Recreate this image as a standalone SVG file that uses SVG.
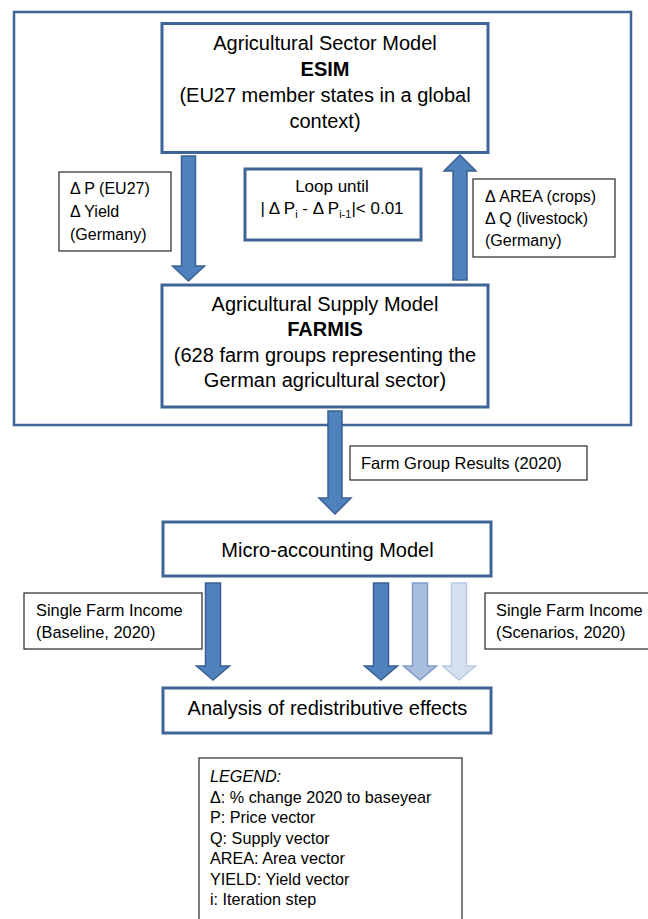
<svg xmlns="http://www.w3.org/2000/svg" width="648" height="919" viewBox="0 0 648 919">
<style>
.box{fill:#fff;stroke:#3F6596;stroke-width:3}
.frame{fill:none;stroke:#3F6596;stroke-width:2.5}
.lbl{fill:#fff;stroke:#262626;stroke-width:1.2}
.t{font-family:"Liberation Sans",Arial,sans-serif;fill:#000}
.m{font-size:20px}
.s{font-size:16px}
.c{text-anchor:middle}
.a1{fill:#4F81BD;stroke:#3A6092;stroke-width:1.5}
.a2{fill:#A7BEDD;stroke:#7F9CC6;stroke-width:1.5}
.a3{fill:#D5E0EF;stroke:#B9CCE4;stroke-width:1.5}
</style>
<rect x="0" y="0" width="648" height="919" fill="#fff"/>
<g id="frame"><rect class="frame" x="14" y="12" width="617" height="413"/></g>
<g id="connectors">
<path class="a1" d="M181.5,156 H195.5 V266 H204.5 L188.5,281 L172.5,266 H181.5 Z"/>
<path class="a1" d="M453,280 V171 H444 L460,155 L476,171 H467 V280 Z"/>
<path class="a1" d="M328,411 H342 V498 H351 L335,514 L319,498 H328 Z"/>
<path class="a1" d="M205.5,583 H220.5 V666 H229.5 L213,680 L196.5,666 H205.5 Z"/>
<path class="a1" d="M373.5,583 H388.5 V666 H397.5 L381,680 L364.5,666 H373.5 Z"/>
<path class="a2" d="M412.5,583 H427.5 V666 H436.5 L420,680 L403.5,666 H412.5 Z"/>
<path class="a3" d="M451.5,583 H466.5 V666 H475.5 L459,680 L442.5,666 H451.5 Z"/>
</g>
<g id="esim">
<rect class="box" x="162" y="23.5" width="326" height="129"/>
<text class="t m c" x="325" y="50">Agricultural Sector Model</text>
<text class="t m c" x="325" y="76" font-weight="bold">ESIM</text>
<text class="t m c" x="325" y="102">(EU27 member states in a global</text>
<text class="t m c" x="325" y="128">context)</text>
</g>
<g id="farmis">
<rect class="box" x="162" y="285" width="326" height="122"/>
<text class="t m c" x="325" y="311">Agricultural Supply Model</text>
<text class="t m c" x="325" y="336" font-weight="bold">FARMIS</text>
<text class="t m c" x="325" y="362">(628 farm groups representing the</text>
<text class="t m c" x="325" y="387">German agricultural sector)</text>
</g>
<g id="loop">
<rect class="box" x="245" y="169" width="176" height="71"/>
<text class="t c" font-size="17" x="332" y="191.5">Loop until</text>
<text class="t c" font-size="17" x="332" y="214">| Δ P<tspan font-size="11" dy="4">i</tspan><tspan dy="-4"> - Δ P</tspan><tspan font-size="11" dy="4">i-1</tspan><tspan dy="-4">|&lt; 0.01</tspan></text>
</g>
<g id="label-left">
<rect class="lbl" x="59" y="172" width="112" height="79"/>
<text class="t s" x="70" y="194">Δ P (EU27)</text>
<text class="t s" x="70" y="217">Δ Yield</text>
<text class="t s" x="70" y="239.5">(Germany)</text>
</g>
<g id="label-right">
<rect class="lbl" x="473" y="179" width="142" height="78"/>
<text class="t s" x="485" y="201.5">Δ AREA (crops)</text>
<text class="t s" x="485" y="224">Δ Q (livestock)</text>
<text class="t s" x="485" y="246">(Germany)</text>
</g>
<g id="label-fgr">
<rect class="lbl" x="350" y="446" width="237" height="34"/>
<text class="t" font-size="16.5" x="361" y="468.5">Farm Group Results (2020)</text>
</g>
<g id="micro">
<rect class="box" x="163" y="522" width="328" height="54"/>
<text class="t m c" x="327.5" y="557">Micro-accounting Model</text>
</g>
<g id="label-base">
<rect class="lbl" x="24" y="593" width="178" height="56"/>
<text class="t" font-size="16.4" x="36" y="616">Single Farm Income</text>
<text class="t" font-size="16.4" x="36" y="638">(Baseline, 2020)</text>
</g>
<g id="label-scen">
<rect class="lbl" x="485" y="593" width="170" height="56"/>
<text class="t" font-size="16.4" x="496" y="616">Single Farm Income</text>
<text class="t" font-size="16.4" x="496" y="638">(Scenarios, 2020)</text>
</g>
<g id="analysis">
<rect class="box" x="163" y="688" width="328" height="45"/>
<text class="t m c" x="327.5" y="715">Analysis of redistributive effects</text>
</g>
<g id="legend">
<rect class="lbl" x="199" y="758" width="263" height="175"/>
<text class="t" font-size="16.2" x="210" y="782" font-style="italic">LEGEND:</text>
<text class="t" font-size="16.2" x="210" y="802.5">Δ: % change 2020 to baseyear</text>
<text class="t" font-size="16.2" x="210" y="823">P: Price vector</text>
<text class="t" font-size="16.2" x="210" y="843.5">Q: Supply vector</text>
<text class="t" font-size="16.2" x="210" y="864">AREA: Area vector</text>
<text class="t" font-size="16.2" x="210" y="884.5">YIELD: Yield vector</text>
<text class="t" font-size="16.2" x="210" y="905">i: Iteration step</text>
</g>
</svg>
